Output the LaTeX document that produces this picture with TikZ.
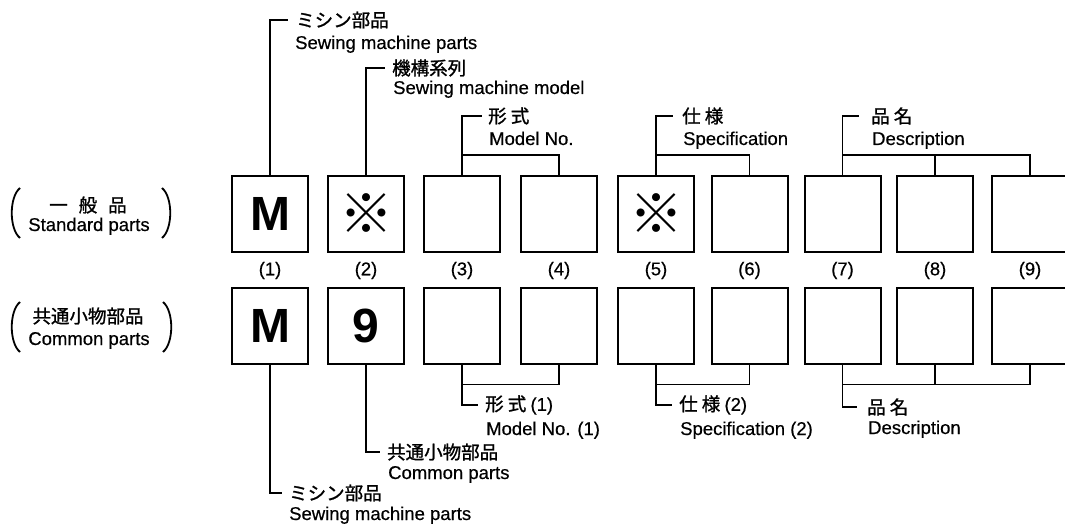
\documentclass[tikz,border=0pt]{standalone}
\usepackage{fontspec}
\setmainfont{Liberation Sans}
\newfontfamily\lat[FakeBold=0.5]{Liberation Sans}
\newfontfamily\jp[FakeBold=1.2]{Noto Sans CJK JP}
\newfontfamily\jpk{Noto Sans CJK JP}
\begin{document}
\begin{tikzpicture}[x=1pt,y=-1pt,
  box/.style={draw, line width=2pt, minimum width=76pt, minimum height=76pt, inner sep=0pt},
  conn/.style={line width=1.7pt},
  jl/.style={anchor=west, inner sep=0pt, font=\fontsize{18.5}{22}\selectfont\jp},
  el/.style={anchor=base west, inner sep=0pt, font=\fontsize{18.5}{22}\selectfont\lat},
  num/.style={inner sep=0pt, font=\fontsize{18.5}{22}\selectfont\lat},
  big/.style={font=\fontsize{48}{50}\selectfont\bfseries},
  kome/.style={font=\fontsize{54}{54}\selectfont\jpk},
  paren/.style={line width=1.8pt}]
\useasboundingbox (0,0) rectangle (1065,529);
\clip (0,0) rectangle (1065,529);

% left labels
\node[jl, anchor=center] (sj) at (88,205) {一\hspace{11pt}般\hspace{11pt}品};
\node[el, anchor=base] (se) at (89,231) {Standard parts};
\node[jl, anchor=center] (cj) at (88,316) {共通小物部品};
\node[el, anchor=base] (ce) at (89,345) {Common parts};
\draw[paren] (20,188) .. controls (9,197) and (9,229) .. (20,238);
\draw[paren] (162,188) .. controls (173,197) and (173,229) .. (162,238);
\draw[paren] (20,302) .. controls (9,311) and (9,343) .. (20,352);
\draw[paren] (163,302) .. controls (174,311) and (174,343) .. (163,352);

% top row boxes
\node[box, big] (t1) at (270,214) {M};
\node[box, kome] (t2) at (366,214) {※};
\node[box] (t3) at (462,214) {};
\node[box] (t4) at (559,214) {};
\node[box, kome] (t5) at (656,214) {※};
\node[box] (t6) at (749.5,214) {};
\node[box] (t7) at (842.5,214) {};
\node[box] (t8) at (935,214) {};
\node[box] (t9) at (1030,214) {};

% numbers
\node[num] (n1) at (270,270.5) {(1)};
\node[num] (n2) at (366,270.5) {(2)};
\node[num] (n3) at (462,270.5) {(3)};
\node[num] (n4) at (559,270.5) {(4)};
\node[num] (n5) at (656,270.5) {(5)};
\node[num] (n6) at (749.5,270.5) {(6)};
\node[num] (n7) at (842.5,270.5) {(7)};
\node[num] (n8) at (935,270.5) {(8)};
\node[num] (n9) at (1030,270.5) {(9)};

% bottom row boxes
\node[box, big] (b1) at (270,325.5) {M};
\node[box, big] (b2) at (366,325.5) {9};
\node[box] (b3) at (462,325.5) {};
\node[box] (b4) at (559,325.5) {};
\node[box] (b5) at (656,325.5) {};
\node[box] (b6) at (749.5,325.5) {};
\node[box] (b7) at (842.5,325.5) {};
\node[box] (b8) at (935,325.5) {};
\node[box] (b9) at (1030,325.5) {};

% top labels
\node[jl] (tj1) at (296,20) {ミシン部品};
\node[el] (te1) at (295,49) {Sewing machine parts};
\node[jl] (tj2) at (392,68) {機構系列};
\node[el] (te2) at (393,94) {Sewing machine model};
\node[jl] (tj3) at (488,116) {形 式};
\node[el] (te3) at (489,145) {Model No.};
\node[jl] (tj5) at (682,116) {仕 様};
\node[el] (te5) at (683,145) {Specification};
\node[jl] (tj7) at (871,116) {品 名};
\node[el] (te7) at (872,145) {Description};

% bottom labels
\node[jl] (bj1) at (289,493) {ミシン部品};
\node[el] (be1) at (289,520) {Sewing machine parts};
\node[jl] (bj2) at (387,452) {共通小物部品};
\node[el] (be2) at (388,479) {Common parts};
\node[jl] (bj3) at (485,405) {形 式 {\lat (1)}};
\node[el] (be3) at (486,435) {Model No. (1)};
\node[jl] (bj5) at (679,405) {仕 様 {\lat (2)}};
\node[el] (be5) at (680,435) {Specification (2)};
\node[jl] (bj7) at (867,407) {品 名};
\node[el] (be7) at (868,434) {Description};

% top connectors
\draw[conn] (t1.north) |- ([xshift=-8pt]tj1.west);
\draw[conn] (t2.north) |- ([xshift=-7pt]tj2.west);
\draw[conn] (t3.north) |- ([xshift=-6pt]tj3.west);
\draw[conn] (t4.north) -- ++(0,-20) -| (t3.north);
\draw[conn] (t5.north) |- ([xshift=-9pt]tj5.west);
\draw[conn] (t6.north) -- ++(0,-20) -| (t5.north);
\draw[conn] (t7.north) |- ([xshift=-12pt]tj7.west);
\draw[conn] (t9.north) -- ++(0,-20) -| (t7.north);
\draw[conn] (t8.north) -- ++(0,-20);

% bottom connectors
\draw[conn] (b1.south) |- ([xshift=-7pt]bj1.west);
\draw[conn] (b2.south) |- ([xshift=-7pt]bj2.west);
\draw[conn] (b3.south) |- ([xshift=-7pt]bj3.west);
\draw[conn] (b4.south) -- ++(0,20) -| (b3.south);
\draw[conn] (b5.south) |- ([xshift=-7pt]bj5.west);
\draw[conn] (b6.south) -- ++(0,20) -| (b5.south);
\draw[conn] (b7.south) |- ([xshift=-10pt]bj7.west);
\draw[conn] (b9.south) -- ++(0,20) -| (b7.south);
\draw[conn] (b8.south) -- ++(0,20);
\end{tikzpicture}
\end{document}
